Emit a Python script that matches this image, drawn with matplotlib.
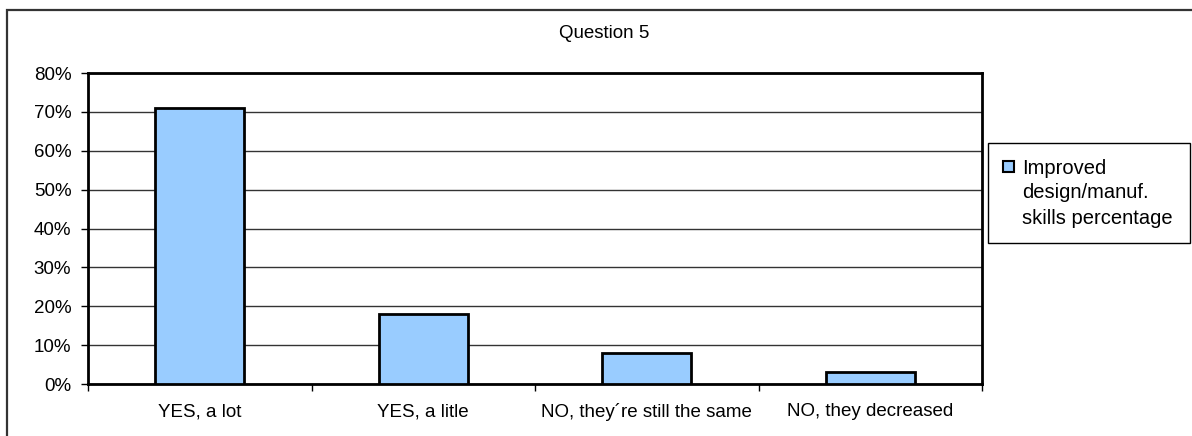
import numpy as np
import matplotlib
matplotlib.use("Agg")
import matplotlib.pyplot as plt
from matplotlib.patches import Rectangle
from matplotlib.ticker import PercentFormatter

categories = ["YES, a lot", "YES, a litle", "NO, they\u00b4re still the same", "NO, they decreased"]
values = [71, 18, 8, 3]
series_name = "Improved\ndesign/manuf.\nskills percentage"
y_ticks = [0, 10, 20, 30, 40, 50, 60, 70, 80]

plt.rcParams['font.family'] = ['Liberation Sans', 'DejaVu Sans']
FS = 13.5
bar_color = '#99CCFF'

W, H = 1192, 436
fig = plt.figure(figsize=(W / 100, H / 100), dpi=100)

def px(x0, y0):
    # pixel (from top-left) -> figure fraction
    return x0 / W, 1 - y0 / H

# outer chart border (only left/top visible in the crop)
fig.add_artist(Rectangle((7 / W, -0.1), 1.2, (H - 10) / H + 0.1, transform=fig.transFigure,
                         fill=False, edgecolor='#333333', linewidth=1.6))

ax = fig.add_axes([88 / W, 52 / H, 894 / W, 311 / H])
x = np.arange(len(categories))
ax.bar(x, values, width=0.4, color=bar_color, edgecolor='black', linewidth=2, zorder=3)

ax.set_xlim(-0.5, len(categories) - 0.5)
ax.set_ylim(0, 80)
ax.set_yticks(y_ticks)
ax.yaxis.set_major_formatter(PercentFormatter(decimals=0))
ax.grid(axis='y', color='#333333', linewidth=1.0, zorder=0)

ax.set_xticks(x)
ax.set_xticklabels(categories)
ax.set_xticks(np.arange(-0.5, len(categories)), minor=True)
ax.tick_params(axis='x', which='major', length=0, pad=14, labelsize=FS)
ax.tick_params(axis='x', which='minor', length=5, width=1, direction='out')
ax.tick_params(axis='y', length=5, width=1, direction='out', labelsize=FS, pad=7)

for s in ax.spines.values():
    s.set_linewidth(2)
    s.set_color('black')

fig.text(*px(604, 34), "Question 5", ha='center', va='center', fontsize=FS)

# legend box
lx0, ly0, lx1, ly1 = 988, 143, 1190, 243
fig.add_artist(Rectangle(px(lx0, ly1), (lx1 - lx0) / W, (ly1 - ly0) / H,
                         transform=fig.transFigure, fill=False, edgecolor='black', linewidth=1.0))
fig.add_artist(Rectangle(px(1003, 172), 11 / W, 11 / H, transform=fig.transFigure,
                         facecolor=bar_color, edgecolor='black', linewidth=1.5))
fig.text(*px(1022, 193), series_name, ha='left', va='center', fontsize=14.5, linespacing=1.4)

fig.savefig("out.png", dpi=100)
